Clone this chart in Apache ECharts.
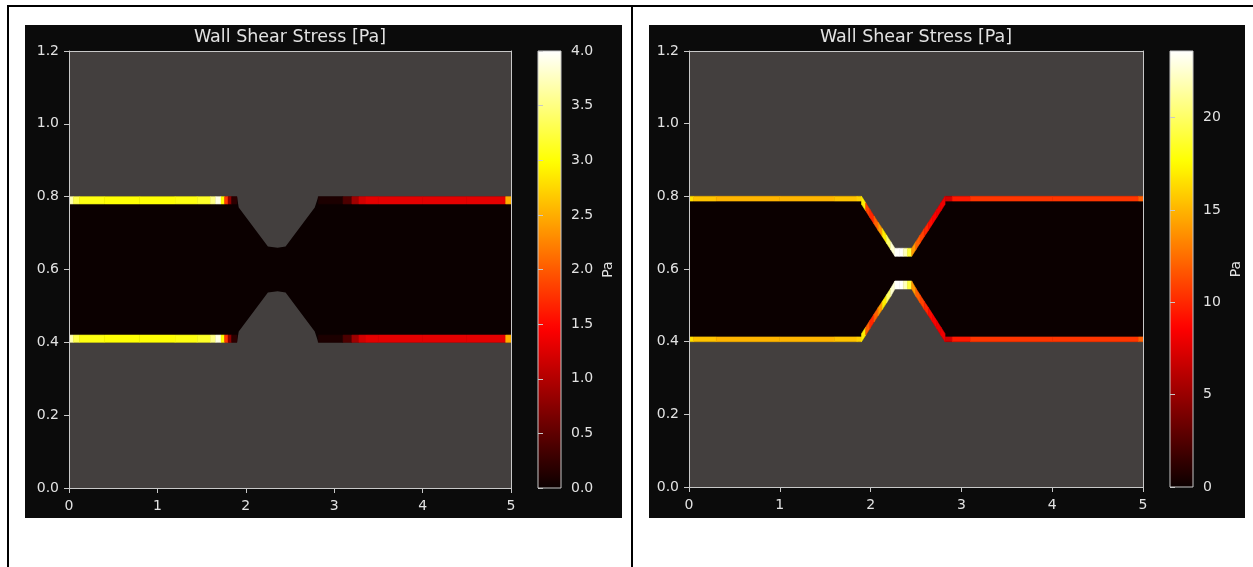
<!DOCTYPE html>
<html><head><meta charset="utf-8">
<script src="https://cdn.jsdelivr.net/npm/echarts@6/dist/echarts.min.js"></script>
<style>html,body{margin:0;padding:0;background:#fff;}#chart{width:1253px;height:567px;}</style>
</head><body><div id="chart"></div>
<script>
// ================= DATA =================
const titleText = 'Wall Shear Stress [Pa]';
const unitText = 'Pa';
const xTicks = [0, 1, 2, 3, 4, 5];
const yTicks = [0, 0.2, 0.4, 0.6, 0.8, 1.0, 1.2];
const leftCbTicks = [0, 0.5, 1.0, 1.5, 2.0, 2.5, 3.0, 3.5, 4.0];
const rightCbTicks = [0, 5, 10, 15, 20];
const leftCbMax = 4.0;
const rightCbMax = 23.6;
const interiorValue = 0;

// Left panel: channel wall geometry (top / bottom wall y at wall x positions)
const leftWallX   = [0, 1.90, 1.92, 2.25, 2.36, 2.45, 2.78, 2.82, 5];
const leftWallTop = [0.80, 0.80, 0.77, 0.663, 0.66, 0.663, 0.77, 0.80, 0.80];
const leftWallBot = [0.40, 0.40, 0.43, 0.537, 0.54, 0.537, 0.43, 0.40, 0.40];
// Left panel: wall shear stress along the flat walls (cell edges / cell values)
const leftUpX      = [0, 0.05, 0.12, 0.4, 0.8, 1.2, 1.45, 1.6, 1.66, 1.72, 1.76, 1.8, 1.84, 1.9];
const leftUpTop    = [3.7, 3.3, 3.05, 3.0, 3.0, 3.05, 3.15, 3.5, 3.9, 3.0, 1.8, 0.8, 0.2];
const leftUpBot    = [3.7, 3.3, 3.05, 3.0, 3.0, 3.05, 3.15, 3.5, 3.9, 3.0, 1.8, 0.8, 0.2];
const leftDownX    = [2.82, 3.1, 3.2, 3.28, 3.36, 3.5, 4.0, 4.5, 4.94, 5.0];
const leftDownTop  = [0.1, 0.4, 0.9, 1.2, 1.3, 1.3, 1.3, 1.3, 2.5];
const leftDownBot  = [0.1, 0.4, 0.9, 1.2, 1.3, 1.3, 1.3, 1.3, 2.5];
const leftTopWallY = 0.80, leftBotWallY = 0.40;

// Right panel: wall geometry (shared x), wall shear stress per wall cell
const rightWallX = [0, 0.05, 0.3, 1.0, 1.6, 1.85, 1.9,
  1.946, 1.992, 2.038, 2.084, 2.13, 2.176, 2.222, 2.268,
  2.314, 2.36, 2.406, 2.452,
  2.498, 2.544, 2.59, 2.636, 2.682, 2.728, 2.774, 2.82,
  2.9, 3.1, 4.0, 4.95, 5.0];
const rightWallTop = [0.80, 0.80, 0.80, 0.80, 0.80, 0.80, 0.80,
  0.782, 0.764, 0.746, 0.728, 0.711, 0.693, 0.675, 0.657,
  0.657, 0.657, 0.657, 0.657,
  0.675, 0.693, 0.711, 0.728, 0.746, 0.764, 0.782, 0.80,
  0.80, 0.80, 0.80, 0.80, 0.80];
const rightWallBot = [0.40, 0.40, 0.40, 0.40, 0.40, 0.40, 0.40,
  0.418, 0.436, 0.454, 0.472, 0.489, 0.507, 0.525, 0.545,
  0.545, 0.545, 0.545, 0.545,
  0.525, 0.507, 0.489, 0.472, 0.454, 0.436, 0.418, 0.40,
  0.40, 0.40, 0.40, 0.40, 0.40];
const rightWssTop = [16.5, 15.5, 15, 15, 15.5, 16,
  17, 11, 10, 12, 14, 17, 20, 22.5,
  23.5, 23.6, 22, 19,
  14, 12, 11, 10, 9, 8.5, 8, 8,
  7, 9.5, 10.5, 10.5, 12];
const rightWssBot = [16.5, 15.5, 15, 15, 15.5, 16,
  17, 12, 10, 12, 14, 17, 20, 22.5,
  23.5, 23.6, 22, 19,
  14, 12, 11, 10, 9, 8.5, 8, 8,
  7, 9.5, 10.5, 10.5, 12];
const leftStripThick = 0.02;
const rightStripThick = 0.013;
const rightSlopeThick = 0.022;

// ================= COLORMAP ('hot') =================
function hot(t) {
  const r = Math.min(1, 0.0416 + t * (1 - 0.0416) / 0.365);
  const g = Math.max(0, Math.min(1, (t - 0.365) / (0.746 - 0.365)));
  const b = Math.max(0, Math.min(1, (t - 0.746) / (1 - 0.746)));
  return 'rgb(' + Math.round(r * 255) + ',' + Math.round(g * 255) + ',' + Math.round(b * 255) + ')';
}
const hotColors = [];
for (let i = 0; i <= 64; i++) hotColors.push(hot(i / 64));
const hotStops = hotColors.map((c, i) => ({ offset: i / 64, color: c }));

// ================= BUILDERS =================
function buildCells(xs, ys, vals, dyFlat, dySlope, flatY) {
  const out = [];
  for (let i = 0; i < vals.length; i++) {
    const y0 = Array.isArray(ys) ? ys[i] : ys;
    const y1 = Array.isArray(ys) ? ys[i + 1] : ys;
    const onFlat = (flatY === undefined) || (y0 === flatY && y1 === flatY);
    out.push([vals[i], xs[i], y0, xs[i + 1], y1, onFlat ? dyFlat : dySlope]);
  }
  return out;
}
function cellRender(params, api) {
  const x0 = api.value(1), y0 = api.value(2), x1 = api.value(3), y1 = api.value(4), dy = api.value(5);
  const pts = [api.coord([x0, y0]), api.coord([x1, y1]), api.coord([x1, y1 + dy]), api.coord([x0, y0 + dy])];
  const c = api.visual('color');
  return { type: 'polygon', shape: { points: pts }, style: { fill: c, stroke: c, lineWidth: 0.6 } };
}
function interiorRender(xs, top, bot) {
  return function (params, api) {
    const pts = [];
    for (let i = 0; i < xs.length; i++) pts.push(api.coord([xs[i], top[i]]));
    for (let i = xs.length - 1; i >= 0; i--) pts.push(api.coord([xs[i], bot[i]]));
    return { type: 'polygon', shape: { points: pts }, style: { fill: api.visual('color') } };
  };
}
function cbRender(maxV) {
  return function (params, api) {
    const p0 = api.coord([0, 0]), p1 = api.coord([1, maxV]);
    return {
      type: 'rect',
      shape: { x: p0[0], y: p1[1], width: p1[0] - p0[0], height: p0[1] - p1[1] },
      style: { fill: new echarts.graphic.LinearGradient(0, 1, 0, 0, hotStops), stroke: '#c8c8c8', lineWidth: 1 }
    };
  };
}

const leftCells = []
  .concat(buildCells(leftUpX, leftTopWallY, leftUpTop, -leftStripThick))
  .concat(buildCells(leftUpX, leftBotWallY, leftUpBot, leftStripThick))
  .concat(buildCells(leftDownX, leftTopWallY, leftDownTop, -leftStripThick))
  .concat(buildCells(leftDownX, leftBotWallY, leftDownBot, leftStripThick));
const rightCells = []
  .concat(buildCells(rightWallX, rightWallTop, rightWssTop, -rightStripThick, -rightSlopeThick, 0.80))
  .concat(buildCells(rightWallX, rightWallBot, rightWssBot, rightStripThick, rightSlopeThick, 0.40));

// ================= STYLE =================
const FONT = 'DejaVu Sans';
const lineCol = '#c8c8c8';
const textCol = '#e2e2e2';
const plotBg = '#433f3e';
const panelBg = '#0b0b0b';
const tickFont = 14;

function xMain(grid) {
  return {
    gridIndex: grid, type: 'value', min: xTicks[0], max: xTicks[xTicks.length - 1], interval: 1,
    position: 'bottom', z: 5,
    axisLine: { show: true, onZero: false, lineStyle: { color: lineCol, width: 1 } },
    axisTick: { show: true, length: 5, lineStyle: { color: lineCol } },
    axisLabel: { show: true, margin: 11, color: textCol, fontSize: tickFont, fontFamily: FONT },
    splitLine: { show: false }
  };
}
function xTop(grid) {
  return {
    gridIndex: grid, type: 'value', min: xTicks[0], max: xTicks[xTicks.length - 1], position: 'top', z: 5,
    axisLine: { show: true, onZero: false, lineStyle: { color: lineCol, width: 1 } },
    axisTick: { show: false }, axisLabel: { show: false }, splitLine: { show: false }
  };
}
function yMain(grid) {
  return {
    gridIndex: grid, type: 'value', min: yTicks[0], max: yTicks[yTicks.length - 1], interval: 0.2,
    position: 'left', z: 5,
    axisLine: { show: true, onZero: false, lineStyle: { color: lineCol, width: 1 } },
    axisTick: { show: true, length: 5, lineStyle: { color: lineCol } },
    axisLabel: { show: true, margin: 10, color: textCol, fontSize: tickFont, fontFamily: FONT, formatter: v => v.toFixed(1) },
    splitLine: { show: false }
  };
}
function yRight(grid) {
  return {
    gridIndex: grid, type: 'value', min: yTicks[0], max: yTicks[yTicks.length - 1], position: 'right', z: 5,
    axisLine: { show: true, onZero: false, lineStyle: { color: lineCol, width: 1 } },
    axisTick: { show: false }, axisLabel: { show: false }, splitLine: { show: false }
  };
}
function xHidden(grid) {
  return { gridIndex: grid, type: 'value', min: 0, max: 1, show: false };
}
function yCb(grid, maxV, ticks, fmt, nameGap) {
  return {
    gridIndex: grid, type: 'value', min: 0, max: maxV, position: 'right', z: 5,
    name: unitText, nameLocation: 'middle', nameGap: nameGap, nameRotate: 90,
    nameTextStyle: { color: textCol, fontSize: tickFont, fontFamily: FONT },
    axisLine: { show: false },
    axisTick: { show: true, length: 5, customValues: ticks, lineStyle: { color: lineCol } },
    axisLabel: { show: true, margin: 10, customValues: ticks, color: textCol, fontSize: tickFont, fontFamily: FONT, formatter: fmt },
    splitLine: { show: false }
  };
}

const option = {
  backgroundColor: '#ffffff',
  animation: false,
  title: [
    { text: titleText, left: 290, top: 37.5, textAlign: 'center', textVerticalAlign: 'middle', padding: 0,
      textStyle: { color: textCol, fontSize: 17.5, fontWeight: 'normal', fontFamily: FONT } },
    { text: titleText, left: 916, top: 37.5, textAlign: 'center', textVerticalAlign: 'middle', padding: 0,
      textStyle: { color: textCol, fontSize: 17.5, fontWeight: 'normal', fontFamily: FONT } }
  ],
  graphic: [
    { type: 'rect', z: -10, silent: true, shape: { x: 25, y: 25, width: 597, height: 493 }, style: { fill: panelBg } },
    { type: 'rect', z: -10, silent: true, shape: { x: 649, y: 25, width: 596, height: 493 }, style: { fill: panelBg } },
    { type: 'line', z: 100, silent: true, shape: { x1: 8, y1: 5, x2: 8, y2: 567 }, style: { stroke: '#000', lineWidth: 2 } },
    { type: 'line', z: 100, silent: true, shape: { x1: 7, y1: 6, x2: 1253, y2: 6 }, style: { stroke: '#000', lineWidth: 2 } },
    { type: 'line', z: 100, silent: true, shape: { x1: 632, y1: 5, x2: 632, y2: 567 }, style: { stroke: '#000', lineWidth: 2 } }
  ],
  grid: [
    { left: 69, top: 51, width: 442, height: 437, show: true, backgroundColor: plotBg, borderWidth: 0 },
    { left: 538, top: 51, width: 23, height: 437, show: false },
    { left: 689, top: 51, width: 454, height: 436, show: true, backgroundColor: plotBg, borderWidth: 0 },
    { left: 1170, top: 51, width: 23, height: 436, show: false }
  ],
  xAxis: [xMain(0), xTop(0), xHidden(1), xMain(2), xTop(2), xHidden(3)],
  yAxis: [
    yMain(0), yRight(0),
    yCb(1, leftCbMax, leftCbTicks, v => v.toFixed(1), 40),
    yMain(2), yRight(2),
    yCb(3, rightCbMax, rightCbTicks, v => String(Math.round(v)), 36)
  ],
  visualMap: [
    { type: 'continuous', show: false, min: 0, max: leftCbMax, dimension: 0, seriesIndex: [0, 1], inRange: { color: hotColors } },
    { type: 'continuous', show: false, min: 0, max: rightCbMax, dimension: 0, seriesIndex: [3, 4], inRange: { color: hotColors } }
  ],
  series: [
    { type: 'custom', name: 'left interior', xAxisIndex: 0, yAxisIndex: 0, clip: true,
      renderItem: interiorRender(leftWallX, leftWallTop, leftWallBot), data: [[interiorValue]] },
    { type: 'custom', name: 'left WSS', xAxisIndex: 0, yAxisIndex: 0, clip: true,
      renderItem: cellRender, data: leftCells },
    { type: 'custom', name: 'left colorbar', xAxisIndex: 2, yAxisIndex: 2,
      renderItem: cbRender(leftCbMax), data: [[0, leftCbMax]] },
    { type: 'custom', name: 'right interior', xAxisIndex: 3, yAxisIndex: 3, clip: true,
      renderItem: interiorRender(rightWallX, rightWallTop, rightWallBot), data: [[interiorValue]] },
    { type: 'custom', name: 'right WSS', xAxisIndex: 3, yAxisIndex: 3, clip: true,
      renderItem: cellRender, data: rightCells },
    { type: 'custom', name: 'right colorbar', xAxisIndex: 5, yAxisIndex: 5,
      renderItem: cbRender(rightCbMax), data: [[0, rightCbMax]] }
  ]
};

const chart = echarts.init(document.getElementById('chart'), null, { renderer: 'canvas', width: 1253, height: 567 });
chart.setOption(option);
</script></body></html>
